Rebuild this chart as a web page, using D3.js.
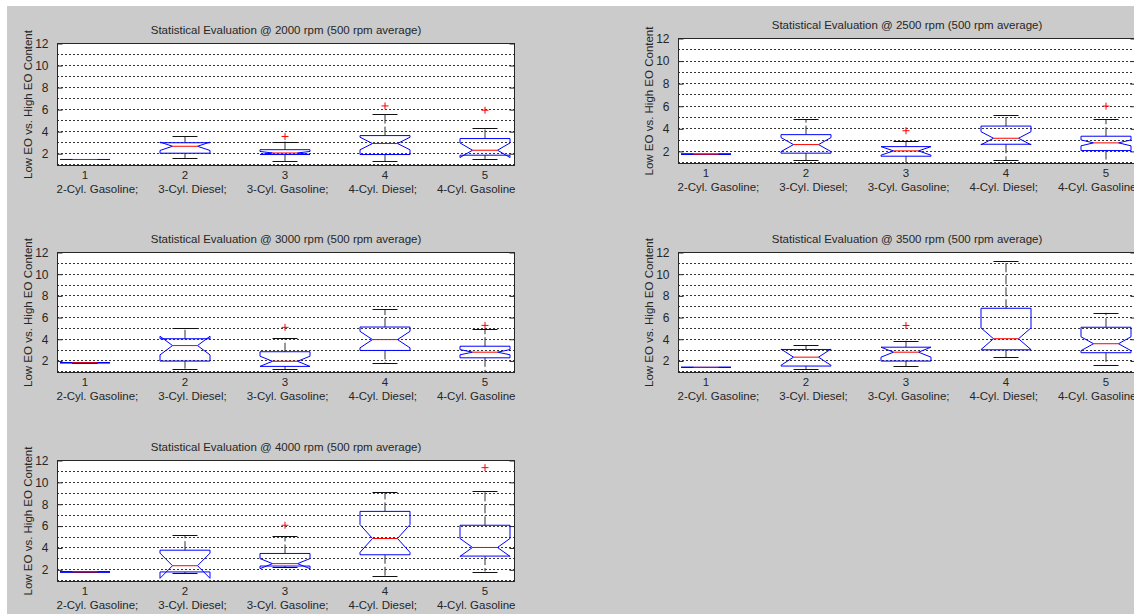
<!DOCTYPE html>
<html>
<head>
<meta charset="utf-8">
<script src="https://cdn.jsdelivr.net/npm/d3@7"></script>
<style>
  html, body { margin: 0; padding: 0; background: #fff; overflow: hidden; }
  text { font-family: Arial, "Liberation Sans", sans-serif; fill: #262626; }
</style>
</head>
<body>
<svg id="chart" width="1134" height="614"></svg>
<script>
// ---- data -------------------------------------------------------------
const categoryNumbers = ["1", "2", "3", "4", "5"];
const categoryNames = ["2-Cyl. Gasoline;", "3-Cyl. Diesel;", "3-Cyl. Gasoline;", "4-Cyl. Diesel;", "4-Cyl. Gasoline"];
const speeds = [2000, 2500, 3000, 3500, 4000];
const yTickValues = [2, 4, 6, 8, 10, 12];
const gridValues = [1, 2, 3, 4, 5, 6, 7, 8, 9, 10, 11];

// one row per speed, one column per engine category
const whiskerLow = [
  [1.43, 1.57, 1.30, 1.27, 1.43],
  [1.71, 1.18, 0.96, 1.18, 0.80],
  [1.79, 1.24, 1.20, 1.73, 0.80],
  [1.36, 1.17, 1.45, 2.28, 1.60],
  [1.76, 1.64, 2.20, 1.42, 1.80]
];
const quartile1 = [
  [1.43, 2.00, 1.88, 1.88, 1.82],
  [1.71, 1.80, 1.53, 2.59, 2.03],
  [1.79, 1.94, 1.45, 2.92, 2.24],
  [1.36, 1.48, 1.94, 2.98, 2.71],
  [1.76, 1.76, 2.30, 3.33, 3.21]
];
const medians = [
  [1.43, 2.63, 2.02, 2.88, 2.27],
  [1.71, 2.56, 2.00, 3.12, 2.71],
  [1.79, 3.37, 1.92, 3.92, 2.76],
  [1.36, 2.30, 2.76, 4.00, 3.54],
  [1.76, 2.33, 2.52, 4.82, 4.00]
];
const quartile3 = [
  [1.43, 2.95, 2.32, 3.60, 3.33],
  [1.71, 3.44, 2.38, 4.20, 3.30],
  [1.79, 4.00, 2.80, 5.08, 3.31],
  [1.36, 3.01, 3.22, 6.81, 5.06],
  [1.76, 3.75, 3.45, 7.30, 6.03]
];
const whiskerHigh = [
  [1.43, 3.54, 3.06, 5.60, 4.30],
  [1.71, 4.80, 2.88, 5.15, 4.80],
  [1.79, 4.99, 4.08, 6.73, 4.93],
  [1.36, 3.41, 3.81, 11.20, 6.39],
  [1.76, 5.12, 5.03, 9.06, 9.15]
];
// half-length of the median confidence notch
const notchHalf = [
  [0.00, 0.38, 0.14, 0.57, 0.66],
  [0.00, 0.62, 0.38, 0.58, 0.26],
  [0.00, 0.86, 0.47, 0.76, 0.24],
  [0.00, 0.75, 0.46, 1.00, 0.64],
  [0.00, 1.15, 0.46, 1.27, 0.82]
];
const outliers = [
  [[], [], [3.52], [6.29], [5.90]],
  [[], [], [3.79], [], [5.97]],
  [[], [], [5.05], [], [5.23]],
  [[], [], [5.22], [], []],
  [[], [], [6.03], [], [11.30]]
];

// ---- layout -----------------------------------------------------------
const W = 1134, H = 614;
const frames = [
  { left: 57,  top: 43,  width: 458, height: 123 },
  { left: 678, top: 38,  width: 458, height: 126 },
  { left: 57,  top: 252, width: 458, height: 121 },
  { left: 678, top: 252, width: 458, height: 121 },
  { left: 57,  top: 460, width: 458, height: 122 }
];
const yDomain = [0.84, 12];
const xDomain = [0.72, 5.30];
const boxHalf = 0.25;     // half box width in category units
const capHalf = 0.125;    // half whisker cap width
const fontSize = 11.5;
const nameGap = 20;       // spacing between the engine names in the x label

const svg = d3.select("#chart");

// figure background
svg.append("rect").attr("width", W).attr("height", H).attr("fill", "#fff");
svg.append("rect").attr("x", 7).attr("y", 6).attr("width", W - 7).attr("height", H - 6).attr("fill", "#cbcbcb");

const defs = svg.append("defs");

speeds.forEach((rpm, p) => {
  const f = frames[p];
  const x = d3.scaleLinear().domain(xDomain).range([f.left, f.left + f.width]);
  const y = d3.scaleLinear().domain(yDomain).range([f.top + f.height, f.top]);
  const g = svg.append("g");

  const clipId = "clip" + p;
  defs.append("clipPath").attr("id", clipId)
    .append("rect").attr("x", f.left).attr("y", f.top).attr("width", f.width).attr("height", f.height);

  // plot area
  g.append("rect")
    .attr("x", f.left).attr("y", f.top).attr("width", f.width).attr("height", f.height)
    .attr("fill", "#fff");

  // dotted horizontal grid
  g.append("g").selectAll("line").data(gridValues).join("line")
    .attr("x1", f.left).attr("x2", f.left + f.width)
    .attr("y1", d => Math.round(y(d)) + 0.5).attr("y2", d => Math.round(y(d)) + 0.5)
    .attr("stroke", "#333").attr("stroke-width", 1)
    .attr("stroke-dasharray", "2,2");

  // y axis (ticks inward, labels outside)
  const yAxis = d3.axisLeft(y).tickValues(yTickValues).tickSize(-5).tickPadding(9)
    .tickFormat(d3.format("d"));
  const ya = g.append("g").attr("transform", `translate(${f.left + 0.5},0.5)`).call(yAxis);
  ya.select(".domain").remove();
  ya.selectAll("line").attr("stroke", "#262626");
  ya.selectAll("text").attr("font-size", 12).attr("font-family", null).style("fill", "#262626");

  const yAxisR = d3.axisRight(y).tickValues(yTickValues).tickSize(-5).tickFormat("");
  const yr = g.append("g").attr("transform", `translate(${f.left + f.width - 0.5},0.5)`).call(yAxisR);
  yr.select(".domain").remove();
  yr.selectAll("line").attr("stroke", "#262626");

  // x tick numbers at the category positions
  const xl = g.append("g");
  categoryNumbers.forEach((num, i) => {
    xl.append("text").attr("x", x(i + 1)).attr("y", f.top + f.height + 9)
      .attr("dy", "0.35em").attr("text-anchor", "middle").attr("font-size", fontSize).text(num);
  });

  // x label: the engine names as one centred row
  const names = xl.selectAll("text.name").data(categoryNames).join("text")
    .attr("class", "name")
    .attr("y", f.top + f.height + 23).attr("dy", "0.35em")
    .attr("font-size", fontSize).text(d => d);
  const widths = names.nodes().map(n => n.getComputedTextLength());
  const total = d3.sum(widths) + nameGap * (widths.length - 1);
  let cursor = f.left + f.width / 2 - total / 2;
  names.each(function (d, i) {
    d3.select(this).attr("x", cursor);
    cursor += widths[i] + nameGap;
  });

  // boxes
  const marks = g.append("g").attr("clip-path", `url(#${clipId})`);
  categoryNames.forEach((name, i) => {
    const c = i + 1;
    const lo = whiskerLow[p][i], q1 = quartile1[p][i], med = medians[p][i];
    const q3 = quartile3[p][i], hi = whiskerHigh[p][i], nh = notchHalf[p][i];
    const nlo = med - nh, nhi = med + nh;

    // dashed whiskers
    marks.append("line")
      .attr("x1", x(c)).attr("x2", x(c)).attr("y1", y(q3)).attr("y2", y(hi))
      .attr("stroke", "#333").attr("stroke-dasharray", "9,3");
    marks.append("line")
      .attr("x1", x(c)).attr("x2", x(c)).attr("y1", y(q1)).attr("y2", y(lo))
      .attr("stroke", "#333").attr("stroke-dasharray", "9,3");
    // whisker caps
    [lo, hi].forEach(v => {
      marks.append("line")
        .attr("x1", x(c - capHalf)).attr("x2", x(c + capHalf))
        .attr("y1", Math.round(y(v)) + 0.5).attr("y2", Math.round(y(v)) + 0.5)
        .attr("stroke", "#111");
    });

    // notched box outline
    const pts = [
      [c - boxHalf, q1], [c - boxHalf, nlo], [c - boxHalf / 2, med], [c - boxHalf, nhi], [c - boxHalf, q3],
      [c + boxHalf, q3], [c + boxHalf, nhi], [c + boxHalf / 2, med], [c + boxHalf, nlo], [c + boxHalf, q1]
    ];
    marks.append("path")
      .attr("d", d3.line().x(d => x(d[0])).y(d => y(d[1]))(pts) + "Z")
      .attr("fill", "none").attr("stroke", "#0000ff").attr("stroke-width", 1);

    // median
    marks.append("line")
      .attr("x1", x(c - boxHalf / 2)).attr("x2", x(c + boxHalf / 2))
      .attr("y1", y(med)).attr("y2", y(med))
      .attr("stroke", "#ff0000").attr("stroke-width", 1);

    // outliers as red plus signs
    outliers[p][i].forEach(v => {
      const cx = x(c), cy = y(v);
      marks.append("path")
        .attr("d", `M${cx - 3.5},${cy}H${cx + 3.5}M${cx},${cy - 3.5}V${cy + 3.5}`)
        .attr("stroke", "#ff0000").attr("stroke-width", 1);
    });
  });

  // axes frame
  g.append("rect")
    .attr("x", f.left + 0.5).attr("y", f.top + 0.5).attr("width", f.width - 1).attr("height", f.height - 1)
    .attr("fill", "none").attr("stroke", "#262626").attr("stroke-width", 1);

  // title
  g.append("text")
    .attr("x", f.left + f.width / 2).attr("y", f.top - 13).attr("dy", "0.35em")
    .attr("text-anchor", "middle").attr("font-size", fontSize)
    .text(`Statistical Evaluation @ ${rpm} rpm (500 rpm average)`);

  // y label
  g.append("text")
    .attr("transform", `translate(${f.left - 29},${f.top + f.height / 2}) rotate(-90)`)
    .attr("dy", "0.35em").attr("text-anchor", "middle").attr("font-size", fontSize)
    .text("Low EO vs. High EO Content");
});
</script>
</body>
</html>
